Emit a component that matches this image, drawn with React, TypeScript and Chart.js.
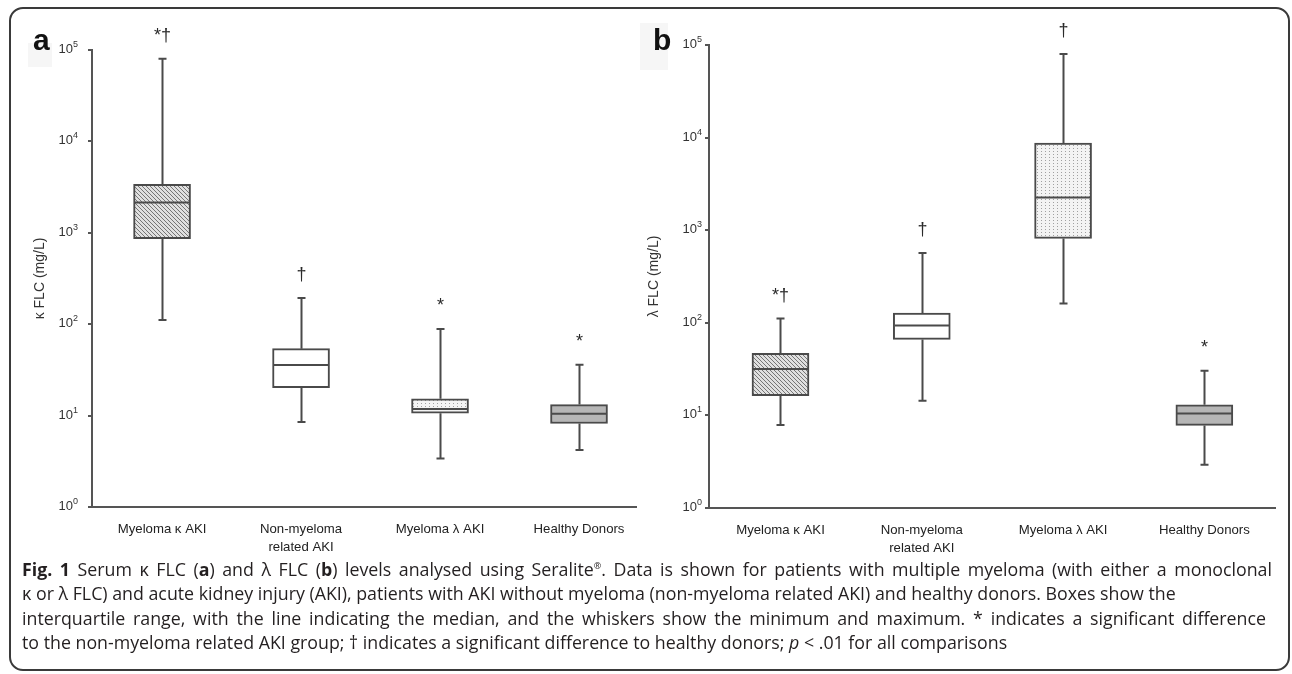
import React, { useEffect, useRef } from "react";
import { Chart, registerables } from "chart.js";

Chart.register(...registerables);

// ---- data ----
const categories: (string | string[])[] = [
  "Myeloma κ AKI",
  ["Non-myeloma", "related AKI"],
  "Myeloma λ AKI",
  "Healthy Donors",
];
const yExponents = [0, 1, 2, 3, 4, 5];

const kappaMin = [111, 8.5, 3.4, 4.2];
const kappaQ1 = [860, 20.2, 10.6, 8.2];
const kappaMedian = [2150, 35.8, 11.8, 10.5];
const kappaQ3 = [3400, 54, 15.3, 13.2];
const kappaMax = [80300, 194, 88.6, 36];
const kappaMarks = ["*†", "†", "*", "*"];

const lambdaMin = [7.9, 14.4, 162, 2.94];
const lambdaQ1 = [16.3, 66.2, 815, 7.8];
const lambdaMedian = [31.7, 93.7, 2260, 10.5];
const lambdaQ3 = [46.7, 127.6, 8750, 13.0];
const lambdaMax = [111, 567, 80000, 30.4];
const lambdaMarks = ["*†", "†", "†", "*"];

const FONT = "Arial, 'Liberation Sans', Helvetica, sans-serif";
const INK = "#4a4a4a";

function makeHatch(): CanvasPattern | string {
  const c = document.createElement("canvas");
  c.width = 4;
  c.height = 4;
  const g = c.getContext("2d");
  if (!g) return "#bbb";
  g.fillStyle = "#e0e0e0";
  g.fillRect(0, 0, 4, 4);
  g.strokeStyle = "#767676";
  g.lineWidth = 1;
  g.beginPath();
  g.moveTo(0, 0);
  g.lineTo(4, 4);
  g.moveTo(-2, 2);
  g.lineTo(2, 6);
  g.moveTo(2, -2);
  g.lineTo(6, 2);
  g.stroke();
  return g.createPattern(c, "repeat") || "#bbb";
}

function makeStipple(): CanvasPattern | string {
  const c = document.createElement("canvas");
  c.width = 4;
  c.height = 3;
  const g = c.getContext("2d");
  if (!g) return "#eee";
  g.fillStyle = "#f3f3f3";
  g.fillRect(0, 0, 4, 3);
  g.fillStyle = "#a0a0a0";
  g.fillRect(1, 1, 1, 1);
  return g.createPattern(c, "repeat") || "#eee";
}

type PanelProps = {
  mins: number[];
  q1: number[];
  med: number[];
  q3: number[];
  maxs: number[];
  marks: string[];
  title: string;
  letter: string;
  letterX: number;
  patch: [number, number, number, number];
  titleX: number;
  labelGap: number;
  xMin: number;
  xMax: number;
  yAxisWidth: number;
  padTop: number;
  padRight: number;
  xAxisHeight: number;
  left: number;
  width: number;
  height: number;
};

function Panel(p: PanelProps) {
  const ref = useRef<HTMLCanvasElement | null>(null);
  useEffect(() => {
    const canvas = ref.current;
    if (!canvas) return;
    const fills = [makeHatch(), "#ffffff", makeStipple(), "#b6b6b6"];

    const boxPlugin = {
      id: "boxExtras",
      beforeDraw(chart: any) {
        const ctx = chart.ctx;
        ctx.save();
        ctx.fillStyle = "#f6f6f6";
        const [px, py, pw, ph] = p.patch;
        ctx.fillRect(px, py, pw, ph);
        ctx.restore();
      },
      afterDatasetsDraw(chart: any) {
        const ctx = chart.ctx;
        const xs = chart.scales.x;
        const ys = chart.scales.y;
        ctx.save();
        ctx.strokeStyle = INK;
        ctx.lineWidth = 2;
        const half = 28.5;
        for (let i = 0; i < p.q1.length; i++) {
          const x = Math.round(xs.getPixelForValue(i)) + 0.5;
          const yMin = ys.getPixelForValue(p.mins[i]);
          const yQ1 = ys.getPixelForValue(p.q1[i]);
          const yMed = ys.getPixelForValue(p.med[i]);
          const yQ3 = ys.getPixelForValue(p.q3[i]);
          const yMax = ys.getPixelForValue(p.maxs[i]);
          ctx.beginPath();
          ctx.moveTo(x, yQ3);
          ctx.lineTo(x, yMax);
          ctx.moveTo(x - 4, yMax);
          ctx.lineTo(x + 4, yMax);
          ctx.moveTo(x, yQ1);
          ctx.lineTo(x, yMin);
          ctx.moveTo(x - 4, yMin);
          ctx.lineTo(x + 4, yMin);
          ctx.moveTo(x - half + 1, yMed);
          ctx.lineTo(x + half - 1, yMed);
          ctx.stroke();
          ctx.fillStyle = "#2a2a2a";
          ctx.font = `18px ${FONT}`;
          ctx.textAlign = "center";
          ctx.textBaseline = "middle";
          ctx.fillText(p.marks[i], x, yMax - 23);
        }
        // y tick labels with superscript exponents
        const axisX = chart.chartArea.left;
        for (const e of yExponents) {
          const y = ys.getPixelForValue(Math.pow(10, e));
          ctx.font = `9px ${FONT}`;
          const supW = ctx.measureText(String(e)).width;
          ctx.textAlign = "right";
          ctx.textBaseline = "alphabetic";
          ctx.fillStyle = "#333";
          const right = axisX - p.labelGap;
          ctx.fillText(String(e), right, y - 3);
          ctx.font = `13px ${FONT}`;
          ctx.fillText("10", right - supW, y + 3);
        }
        // y axis title
        ctx.save();
        ctx.translate(p.titleX, (chart.chartArea.top + chart.chartArea.bottom) / 2);
        ctx.rotate(-Math.PI / 2);
        ctx.font = `14px ${FONT}`;
        ctx.textAlign = "center";
        ctx.textBaseline = "middle";
        ctx.fillStyle = "#333";
        ctx.fillText(p.title, 0, 0);
        ctx.restore();
        // panel letter
        ctx.font = `bold 30px ${FONT}`;
        ctx.textAlign = "left";
        ctx.textBaseline = "alphabetic";
        ctx.fillStyle = "#111";
        ctx.fillText(p.letter, p.letterX, 50);
        ctx.restore();
      },
    };

    const chart = new Chart(canvas, {
      type: "bar",
      data: {
        datasets: [
          {
            data: p.q1.map((v, i) => ({ x: i, y: [v, p.q3[i]] })) as any,
            backgroundColor: fills as any,
            borderColor: INK,
            borderWidth: 2,
            borderSkipped: false,
            barThickness: 57,
          },
        ],
      },
      options: {
        animation: false,
        responsive: false,
        maintainAspectRatio: false,
        layout: { padding: { left: 0, top: p.padTop, right: p.padRight, bottom: 0 } },
        plugins: { legend: { display: false }, tooltip: { enabled: false } },
        scales: {
          x: {
            type: "linear",
            min: p.xMin,
            max: p.xMax,
            offset: false,
            grid: { display: false, drawTicks: false },
            border: { display: true, color: "#555", width: 2 },
            afterBuildTicks: (s: any) => {
              s.ticks = categories.map((_, i) => ({ value: i }));
            },
            afterFit: (s: any) => {
              s.height = p.xAxisHeight;
            },
            ticks: {
              autoSkip: false,
              maxRotation: 0,
              minRotation: 0,
              padding: 13,
              color: "#222",
              font: { family: FONT, size: 13.2, lineHeight: 1.38 },
              callback: (_v: any, idx: number) => categories[idx] as any,
            },
          },
          y: {
            type: "logarithmic",
            min: 1,
            max: 100000,
            afterBuildTicks: (s: any) => {
              s.ticks = yExponents.map((e) => ({ value: Math.pow(10, e) }));
            },
            afterFit: (s: any) => {
              s.width = p.yAxisWidth;
            },
            grid: {
              display: true,
              drawOnChartArea: false,
              drawTicks: true,
              tickLength: 4,
              color: "#555",
              lineWidth: 2,
            },
            border: { display: true, color: "#555", width: 2 },
            ticks: { display: false },
          },
        },
      },
      plugins: [boxPlugin],
    } as any);
    return () => chart.destroy();
  }, []);
  return (
    <canvas
      ref={ref}
      width={p.width}
      height={p.height}
      style={{
        position: "absolute",
        left: p.left,
        top: 0,
        width: p.width,
        height: p.height,
        display: "block",
      }}
    />
  );
}

const lineStyle = (w?: number): React.CSSProperties =>
  w
    ? { width: w, textAlign: "justify", textAlignLast: "justify" as any, whiteSpace: "normal", height: 24.3, overflow: "hidden" }
    : { whiteSpace: "nowrap", height: 24.3 };

export default function App() {
  return (
    <div
      style={{
        position: "absolute",
        left: 0,
        top: 0,
        width: 1292,
        height: 674,
        background: "#fff",
        overflow: "hidden",
      }}
    >
      <div
        style={{
          position: "absolute",
          left: 9,
          top: 7,
          width: 1281,
          height: 664,
          boxSizing: "border-box",
          border: "2px solid #3a3a3a",
          borderRadius: 14,
        }}
      />
      <Panel
        mins={kappaMin}
        q1={kappaQ1}
        med={kappaMedian}
        q3={kappaQ3}
        maxs={kappaMax}
        marks={kappaMarks}
        title="κ FLC (mg/L)"
        letter="a"
        letterX={33}
        patch={[28, 43, 24, 24]}
        titleX={40}
        labelGap={14}
        xMin={-0.504}
        xMax={3.41}
        yAxisWidth={92}
        padTop={50}
        padRight={14}
        xAxisHeight={53}
        left={0}
        width={650}
        height={560}
      />
      <Panel
        mins={lambdaMin}
        q1={lambdaQ1}
        med={lambdaMedian}
        q3={lambdaQ3}
        maxs={lambdaMax}
        marks={lambdaMarks}
        title="λ FLC (mg/L)"
        letter="b"
        letterX={13}
        patch={[0, 23, 28, 47]}
        titleX={14}
        labelGap={7}
        xMin={-0.506}
        xMax={3.5}
        yAxisWidth={69}
        padTop={45}
        padRight={15}
        xAxisHeight={52}
        left={640}
        width={650}
        height={560}
      />
      <div
        style={{
          position: "absolute",
          left: 22,
          top: 557,
          fontFamily: "'Open Sans', 'Noto Sans', sans-serif",
          fontSize: 17.8,
          lineHeight: "24.3px",
          color: "#231f20",
        }}
      >
        <div style={lineStyle(1250)}>
          <b>Fig. 1</b> Serum κ FLC (<b>a</b>) and λ FLC (<b>b</b>) levels analysed using Seralite
          <sup style={{ fontSize: 9, lineHeight: 0 }}>®</sup>. Data is shown for patients with multiple myeloma (with either a monoclonal
        </div>
        <div style={lineStyle()}>
          κ or λ FLC) and acute kidney injury (AKI), patients with AKI without myeloma (non-myeloma related AKI) and healthy donors. Boxes show the
        </div>
        <div style={lineStyle(1244)}>
          interquartile range, with the line indicating the median, and the whiskers show the minimum and maximum. * indicates a significant difference
        </div>
        <div style={lineStyle()}>
          to the non-myeloma related AKI group; † indicates a significant difference to healthy donors; <i>p</i> &lt; .01 for all comparisons
        </div>
      </div>
    </div>
  );
}
